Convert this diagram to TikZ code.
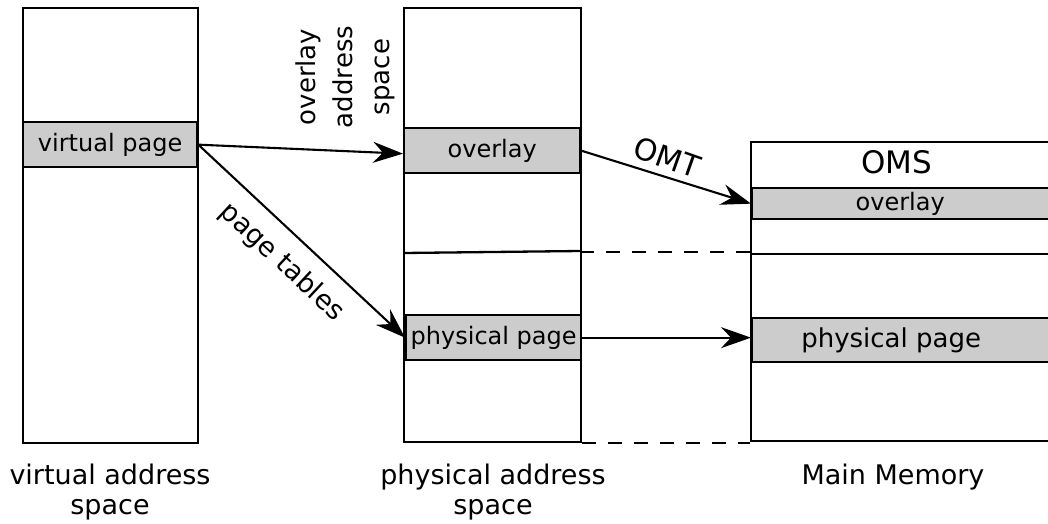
\documentclass[tikz,border=0pt]{standalone}
\usepackage{fontspec}
\setmainfont{DejaVu Sans}
\usetikzlibrary{arrows.meta,calc}
\begin{document}
\begin{tikzpicture}[x=1pt,y=-1pt,
  frame/.style={draw, line width=2.3pt, inner sep=0pt, anchor=north west},
  band/.style={draw, line width=2.3pt, fill=black!20, inner sep=0pt, anchor=north west,
    font=\fontsize{24}{28}\selectfont},
  link/.style={line width=2.1pt, -{Stealth[length=30pt,width=21pt,inset=10pt]}},
  guide/.style={line width=2.1pt, dash pattern=on 14pt off 12pt},
  lbl/.style={font=\fontsize{27}{30}\selectfont, align=center, inner sep=0pt}
]
\useasboundingbox (0,0) rectangle (1048,523);

% address-space columns
\node[frame, minimum width=175pt, minimum height=435pt] (vas) at (22,7) {};
\node[frame, minimum width=177pt, minimum height=434pt] (pas) at (403,7) {};
\node[frame, minimum width=320pt, minimum height=299pt] (mm) at (750,141) {};

% partition lines
\draw[line width=2.3pt] (403,253) -- (580,251);
\draw[line width=2.3pt] (mm.west |- 0,254) -- ++(320,0);

% pages
\node[band, minimum width=174pt, minimum height=45pt] (vp) at (22,121) {virtual page};
\node[band, minimum width=176pt, minimum height=45pt] (ov1) at (403,127) {overlay};
\node[band, minimum width=175pt, minimum height=45pt] (pp1) at (405,314) {physical page};
\node[band, minimum width=300pt, minimum height=31pt] (ov2) at (751,187) {\hspace*{-4pt}overlay};
\node[band, minimum width=300pt, minimum height=44pt, font=\fontsize{26}{30}\selectfont]
  (pp2) at (751,317) {\hspace*{-22pt}physical page};

\node[font=\fontsize{31}{34}\selectfont, inner sep=0pt] (oms) at (897,162) {OMS};

% correspondence between the two memories
\coordinate (mid) at (580,252);
\draw[guide] (mid) -- (mid -| mm.west);
\draw[guide] (pas.south east) -- (pas.south east -| mm.west);

% mappings
\draw[link] (vp.east) -- ([yshift=-3pt]ov1.west);
\draw[link] (vp.east) -- node[midway, sloped, below=15pt, inner sep=0pt,
  font=\fontsize{27}{30}\selectfont] (pt) {page tables} (pp1.west);
\draw[link] (ov1.east) -- node[pos=0.47, sloped, above=7pt, inner sep=0pt, rotate=-2,
  font=\fontsize{30}{34}\selectfont] (omt) {OMT} (ov2.west);
\draw[link] (pp1.east) -- (pp1.east -| pp2.west);

% captions
\node[lbl, rotate=90, font=\fontsize{26}{37}\selectfont] (oas) at (345,77) {overlay\\address\\space};
\node[lbl, anchor=north] (vasl) at (110,463.5) {virtual address\\space};
\node[lbl, anchor=north] (pasl) at (493,463.5) {physical address\\space};
\node[lbl, anchor=base] (mml) at (893,484) {Main Memory};
\end{tikzpicture}
\end{document}
